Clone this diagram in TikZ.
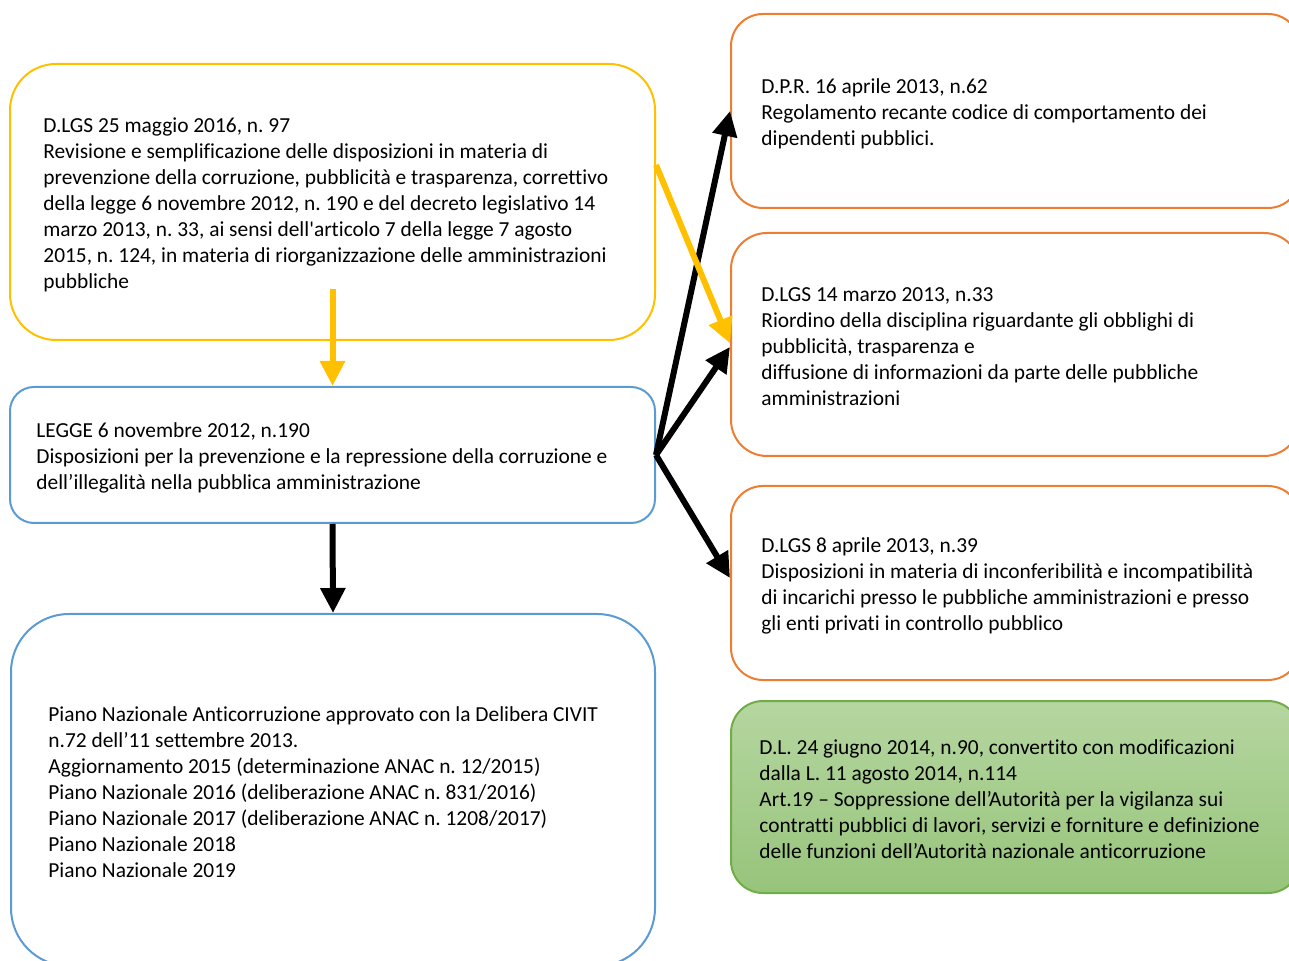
\documentclass[tikz,border=0pt]{standalone}
\usepackage{fontspec}
\setmainfont{Carlito}[Ligatures=NoCommon]
\usetikzlibrary{arrows.meta}
\frenchspacing

\definecolor{yel}{HTML}{FFC000}
\definecolor{blu}{HTML}{5B9BD5}
\definecolor{ora}{HTML}{ED7D31}
\definecolor{grn}{HTML}{70AD47}
\definecolor{grntop}{HTML}{B5D6A0}
\definecolor{grnbot}{HTML}{97C47B}

\tikzset{
  lawbox/.style={draw, line width=1pt, inner sep=0pt, rounded corners=#1},
  lawtext/.style={inner sep=0pt, align=left, anchor=west, yshift=-1.3pt,
    font=\fontsize{10.7pt}{13pt}\selectfont},
  karrow/.style={draw=black, line width=3pt, -{Triangle[length=12.5pt,width=12pt]}},
  yarrow/.style={draw=yel, line width=3pt, -{Triangle[length=12.5pt,width=12pt]}}
}

\begin{document}
\begin{tikzpicture}
  [x=0.5pt, y=-0.5pt]
  \useasboundingbox (0,0) rectangle (1289,961);

  % left column
  \node[lawbox=23pt, draw=yel, minimum width=322.5pt, minimum height=138pt] (y97) at (332.5,202) {};
  \node[lawbox=12pt, draw=blu, minimum width=322.5pt, minimum height=68pt] (l190) at (332.5,455) {};
  \node[lawbox=29pt, draw=blu, minimum width=322pt, minimum height=176pt] (pna) at (333,790) {};

  % right column
  \node[lawbox=16pt, draw=ora, minimum width=284.5pt, minimum height=97pt] (dpr62) at (1015.5,111) {};
  \node[lawbox=18pt, draw=ora, minimum width=284.5pt, minimum height=111.5pt] (d33) at (1015.5,344.5) {};
  \node[lawbox=16pt, draw=ora, minimum width=284.5pt, minimum height=97pt] (d39) at (1015.5,583) {};
  \node[lawbox=16pt, draw=grn, top color=grntop, bottom color=grnbot,
    minimum width=284.5pt, minimum height=96pt] (dl90) at (1015.5,797) {};

  \node[lawtext] (t97) at ([xshift=17pt]y97.west) {D.LGS 25 maggio 2016, n. 97\\
    Revisione e semplificazione delle disposizioni in materia di\\
    prevenzione della corruzione, pubblicità e trasparenza, correttivo\\
    della legge 6 novembre 2012, n. 190 e del decreto legislativo 14\\
    marzo 2013, n. 33, ai sensi dell\textquotesingle articolo 7 della legge 7 agosto\\
    2015, n. 124, in materia di riorganizzazione delle amministrazioni\\
    pubbliche};
  \node[lawtext] (t190) at ([xshift=13.5pt]l190.west) {LEGGE 6 novembre 2012, n.190\\
    Disposizioni per la prevenzione e la repressione della corruzione e\\
    dell’illegalità nella pubblica amministrazione};
  \node[lawtext] (tpna) at ([xshift=19pt]pna.west) {Piano Nazionale Anticorruzione approvato con la Delibera CIVIT\\
    n.72 dell’11 settembre 2013.\\
    Aggiornamento 2015 (determinazione ANAC n. 12/2015)\\
    Piano Nazionale 2016 (deliberazione ANAC n. 831/2016)\\
    Piano Nazionale 2017 (deliberazione ANAC n. 1208/2017)\\
    Piano Nazionale 2018\\
    Piano Nazionale 2019};
  \node[lawtext] (t62) at ([xshift=15.5pt]dpr62.west) {D.P.R. 16 aprile 2013, n.62\\
    Regolamento recante codice di comportamento dei\\
    dipendenti pubblici.};
  \node[lawtext] (t33) at ([xshift=15.5pt]d33.west) {D.LGS 14 marzo 2013, n.33\\
    Riordino della disciplina riguardante gli obblighi di\\
    pubblicità, trasparenza e\\
    diffusione di informazioni da parte delle pubbliche\\
    amministrazioni};
  \node[lawtext] (t39) at ([xshift=15.5pt]d39.west) {D.LGS 8 aprile 2013, n.39\\
    Disposizioni in materia di inconferibilità e incompatibilità\\
    di incarichi presso le pubbliche amministrazioni e presso\\
    gli enti privati in controllo pubblico};
  \node[lawtext] (t90) at ([xshift=14.5pt]dl90.west) {D.L. 24 giugno 2014, n.90, convertito con modificazioni\\
    dalla L. 11 agosto 2014, n.114\\
    Art.19 – Soppressione dell’Autorità per la vigilanza sui\\
    contratti pubblici di lavori, servizi e forniture e definizione\\
    delle funzioni dell’Autorità nazionale anticorruzione};

  % arrows
  \coordinate (ystart) at ([yshift=26pt]y97.south);
  \draw[yarrow] (ystart) -- (l190.north);
  \draw[karrow] (l190.south) -- (pna.north);
  \draw[karrow] (l190.east) -- (dpr62.west);
  \draw[karrow] (l190.east) -- ([yshift=-1.2pt]d33.west);
  \draw[karrow] (l190.east) -- ([yshift=2.5pt]d39.west);
  \draw[yarrow] ([yshift=18.5pt]y97.east) -- ([yshift=0.6pt]d33.west);
\end{tikzpicture}
\end{document}
